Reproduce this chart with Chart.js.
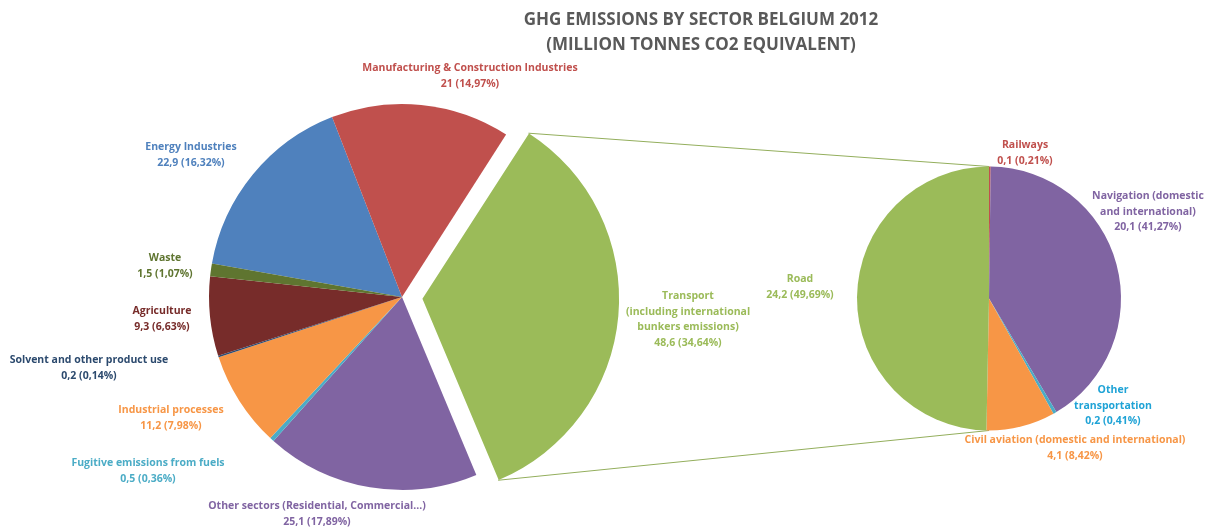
<!DOCTYPE html>
<html>
<head>
<meta charset="utf-8">
<script src="https://cdn.jsdelivr.net/npm/chart.js@4.4.0/dist/chart.umd.min.js"></script>
<style>
  html, body { margin: 0; padding: 0; background: #fff; }
  #wrap { position: relative; width: 1211px; height: 528px; overflow: hidden; }
  #wrap canvas { position: absolute; left: 0; top: 0; }
</style>
</head>
<body>
<div id="wrap">
  <canvas id="mainPie" width="1211" height="528"></canvas>
  <canvas id="subPie" width="1211" height="528"></canvas>
</div>
<script>
// main pie: sectors (million tonnes CO2 eq.)
const sectors = [
    'Energy Industries',
    'Manufacturing & Construction Industries',
    'Transport\n(including international\nbunkers emissions)',
    'Other sectors (Residential, Commercial...)',
    'Fugitive emissions from fuels',
    'Industrial processes',
    'Solvent and other product use',
    'Agriculture',
    'Waste'
];
const sectorValues = [22.9, 21, 48.6, 25.1, 0.5, 11.2, 0.2, 9.3, 1.5];

// second pie: split of transport
const transportModes = [
    'Railways',
    'Navigation (domestic\nand international)',
    'Other\ntransportation',
    'Civil aviation (domestic and international)',
    'Road'
];
const transportValues = [0.1, 20.1, 0.2, 4.1, 24.2];

const titleLines = ['GHG EMISSIONS BY SECTOR BELGIUM 2012', '(MILLION TONNES CO2 EQUIVALENT)'];

// styling / layout
const FONT = "'Open Sans', sans-serif";
const sectorColors = ['#4F81BD', '#C0504D', '#9BBB59', '#8064A2', '#4BACC6', '#F79646', '#2C4D75', '#772C2A', '#5F7530'];
const sectorTextColors = ['#4F81BD', '#C0504D', '#9BBB59', '#8064A2', '#4BACC6', '#F79646', '#2C4A6E', '#772C2A', '#5F7530'];
const sectorLabelPos = [[191, 147], [470, 68], [688, 296], [317, 506], [148, 463], [171, 410], [89, 360], [162, 311], [165, 258]];
const transportColors = ['#C0504D', '#8064A2', '#4BACC6', '#F79646', '#9BBB59'];
const transportTextColors = ['#C0504D', '#8064A2', '#1FA3D6', '#F79646', '#9BBB59'];
const transportLabelPos = [[1025, 145], [1148, 196], [1113, 390], [1075, 440], [800, 279]];

function fmt(v) {
    return String(v).replace('.', ',');
}

const labelPlugin = {
    id: 'sliceLabels',
    afterDatasetsDraw(chart, args, opts) {
        const ctx = chart.ctx;
        const values = chart.data.datasets[0].data;
        const total = values.reduce((a, b) => a + b, 0);
        ctx.save();
        ctx.font = 'bold 10.5px ' + FONT;
        ctx.textAlign = 'center';
        ctx.textBaseline = 'middle';
        chart.data.labels.forEach((label, i) => {
            const lines = label.split('\n');
            lines.push(fmt(values[i]) + ' (' + fmt((values[i] / total * 100).toFixed(2)) + '%)');
            const [x, y] = opts.pos[i];
            ctx.fillStyle = opts.colors[i];
            lines.forEach((t, k) => ctx.fillText(t, x, y + k * 15.7));
        });
        if (opts.title) {
            ctx.font = 'bold 17px ' + FONT;
            ctx.fillStyle = '#595959';
            opts.title.forEach((t, k) => ctx.fillText(t, 701, 20 + k * 25));
        }
        ctx.restore();
    }
};

const mainChart = new Chart(document.getElementById('mainPie'), {
    type: 'pie',
    data: {
        labels: sectors,
        datasets: [{
            data: sectorValues,
            backgroundColor: sectorColors,
            borderWidth: 0,
            offset: sectorValues.map((v, i) => (i === 2 ? 82 : 0))
        }]
    },
    options: {
        responsive: false,
        animation: false,
        events: [],
        rotation: 280,
        radius: 193,
        layout: { padding: { left: 0, right: 407, top: 66, bottom: 0 } },
        plugins: {
            legend: { display: false },
            tooltip: { enabled: false },
            sliceLabels: { pos: sectorLabelPos, colors: sectorTextColors, title: titleLines }
        }
    },
    plugins: [labelPlugin]
});

// lines from the exploded transport slice to the second pie
const connectorPlugin = {
    id: 'connectors',
    beforeDatasetsDraw(chart) {
        const arc = mainChart.getDatasetMeta(0).data[2];
        const off = (arc.options.offset || 0) / 4;
        const mid = (arc.startAngle + arc.endAngle) / 2;
        const fix = 1 - Math.sin(Math.min(Math.PI, arc.circumference));
        const r = arc.outerRadius + off * fix;
        const cx = arc.x + Math.cos(mid) * off;
        const cy = arc.y + Math.sin(mid) * off;
        const sub = chart.getDatasetMeta(0).data[0];
        const ctx = chart.ctx;
        ctx.save();
        ctx.strokeStyle = '#93AE5C';
        ctx.lineWidth = 1;
        ctx.beginPath();
        ctx.moveTo(cx + Math.cos(arc.startAngle) * r, cy + Math.sin(arc.startAngle) * r);
        ctx.lineTo(sub.x, sub.y - sub.outerRadius);
        ctx.moveTo(cx + Math.cos(arc.endAngle) * r, cy + Math.sin(arc.endAngle) * r);
        ctx.lineTo(sub.x, sub.y + sub.outerRadius);
        ctx.stroke();
        ctx.restore();
    }
};

const subChart = new Chart(document.getElementById('subPie'), {
    type: 'pie',
    data: {
        labels: transportModes,
        datasets: [{
            data: transportValues,
            backgroundColor: transportColors,
            borderWidth: 0
        }]
    },
    options: {
        responsive: false,
        animation: false,
        events: [],
        rotation: 0,
        radius: 132,
        layout: { padding: { left: 767, right: 0, top: 69, bottom: 0 } },
        plugins: {
            legend: { display: false },
            tooltip: { enabled: false },
            sliceLabels: { pos: transportLabelPos, colors: transportTextColors }
        }
    },
    plugins: [labelPlugin, connectorPlugin]
});
</script>
</body>
</html>
